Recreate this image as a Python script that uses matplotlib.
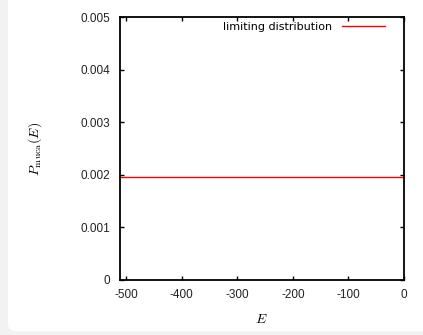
import numpy as np
import matplotlib.pyplot as plt
from matplotlib.patches import FancyBboxPatch, Rectangle

plt.rcParams['mathtext.fontset'] = 'cm'
plt.rcParams['font.family'] = 'DejaVu Sans'

# Energy range of the walk and the flat limiting histogram
E = np.array([-512, 0])
P_limit = np.array([0.00195, 0.00195])
xticks = [-500, -400, -300, -200, -100, 0]
yticks = [0, 0.001, 0.002, 0.003, 0.004, 0.005]
ytick_labels = ['0', '0.001', '0.002', '0.003', '0.004', '0.005']

fig = plt.figure(figsize=(4.23, 3.35), dpi=100)
fig.patch.set_facecolor('white')

# grey margin on the left and bottom, white card with a rounded corner
grey = '#f2f2f2'
x0, y0 = 8 / 423, 4 / 335
for r in [Rectangle((0, 0), x0, 1), Rectangle((0, 0), 1, y0),
          Rectangle((x0, y0), 10 / 423, 10 / 335)]:
    r.set(transform=fig.transFigure, facecolor=grey, edgecolor='none',
          zorder=-20)
    fig.patches.append(r)
card = FancyBboxPatch((x0, y0), 1.5, 1.5,
                      boxstyle='round,pad=0,rounding_size=0.02',
                      transform=fig.transFigure, facecolor='white',
                      edgecolor='none', zorder=-10)
fig.patches.append(card)

ax = fig.add_axes([119.5 / 423, 55 / 335, 284.5 / 423, 263 / 335])
ax.plot(E, P_limit, color='red', lw=1.0, label='limiting distribution')

ax.set_xlim(-512, 0)
ax.set_ylim(0, 0.005)
ax.set_xticks(xticks)
ax.set_xticklabels([str(t) for t in xticks])
ax.set_yticks(yticks)
ax.set_yticklabels(ytick_labels)
ax.tick_params(direction='in', length=3, width=1, labelsize=8.5,
               labelcolor='#222222', top=True, right=True)
ax.tick_params(axis='y', pad=7)
ax.tick_params(axis='x', pad=6.5)
for lab in ax.get_xticklabels() + ax.get_yticklabels():
    lab.set_fontfamily('Liberation Sans')
for s in ax.spines.values():
    s.set_linewidth(1.3)

ax.set_xlabel('$E$', fontsize=10, va='center')
ax.xaxis.set_label_coords(0.5, -0.148)
ax.set_ylabel(r'$P_{\rm muca}(E)$', fontsize=10, va='center')
ax.yaxis.set_label_coords(-0.297, 0.5)

ax.legend(loc='upper right', bbox_to_anchor=(0.932, 0.98), frameon=False,
          fontsize=8, markerfirst=False, handlelength=3.8,
          handletextpad=0.9, borderpad=0, borderaxespad=0)

fig.savefig('out.png', dpi=100)
